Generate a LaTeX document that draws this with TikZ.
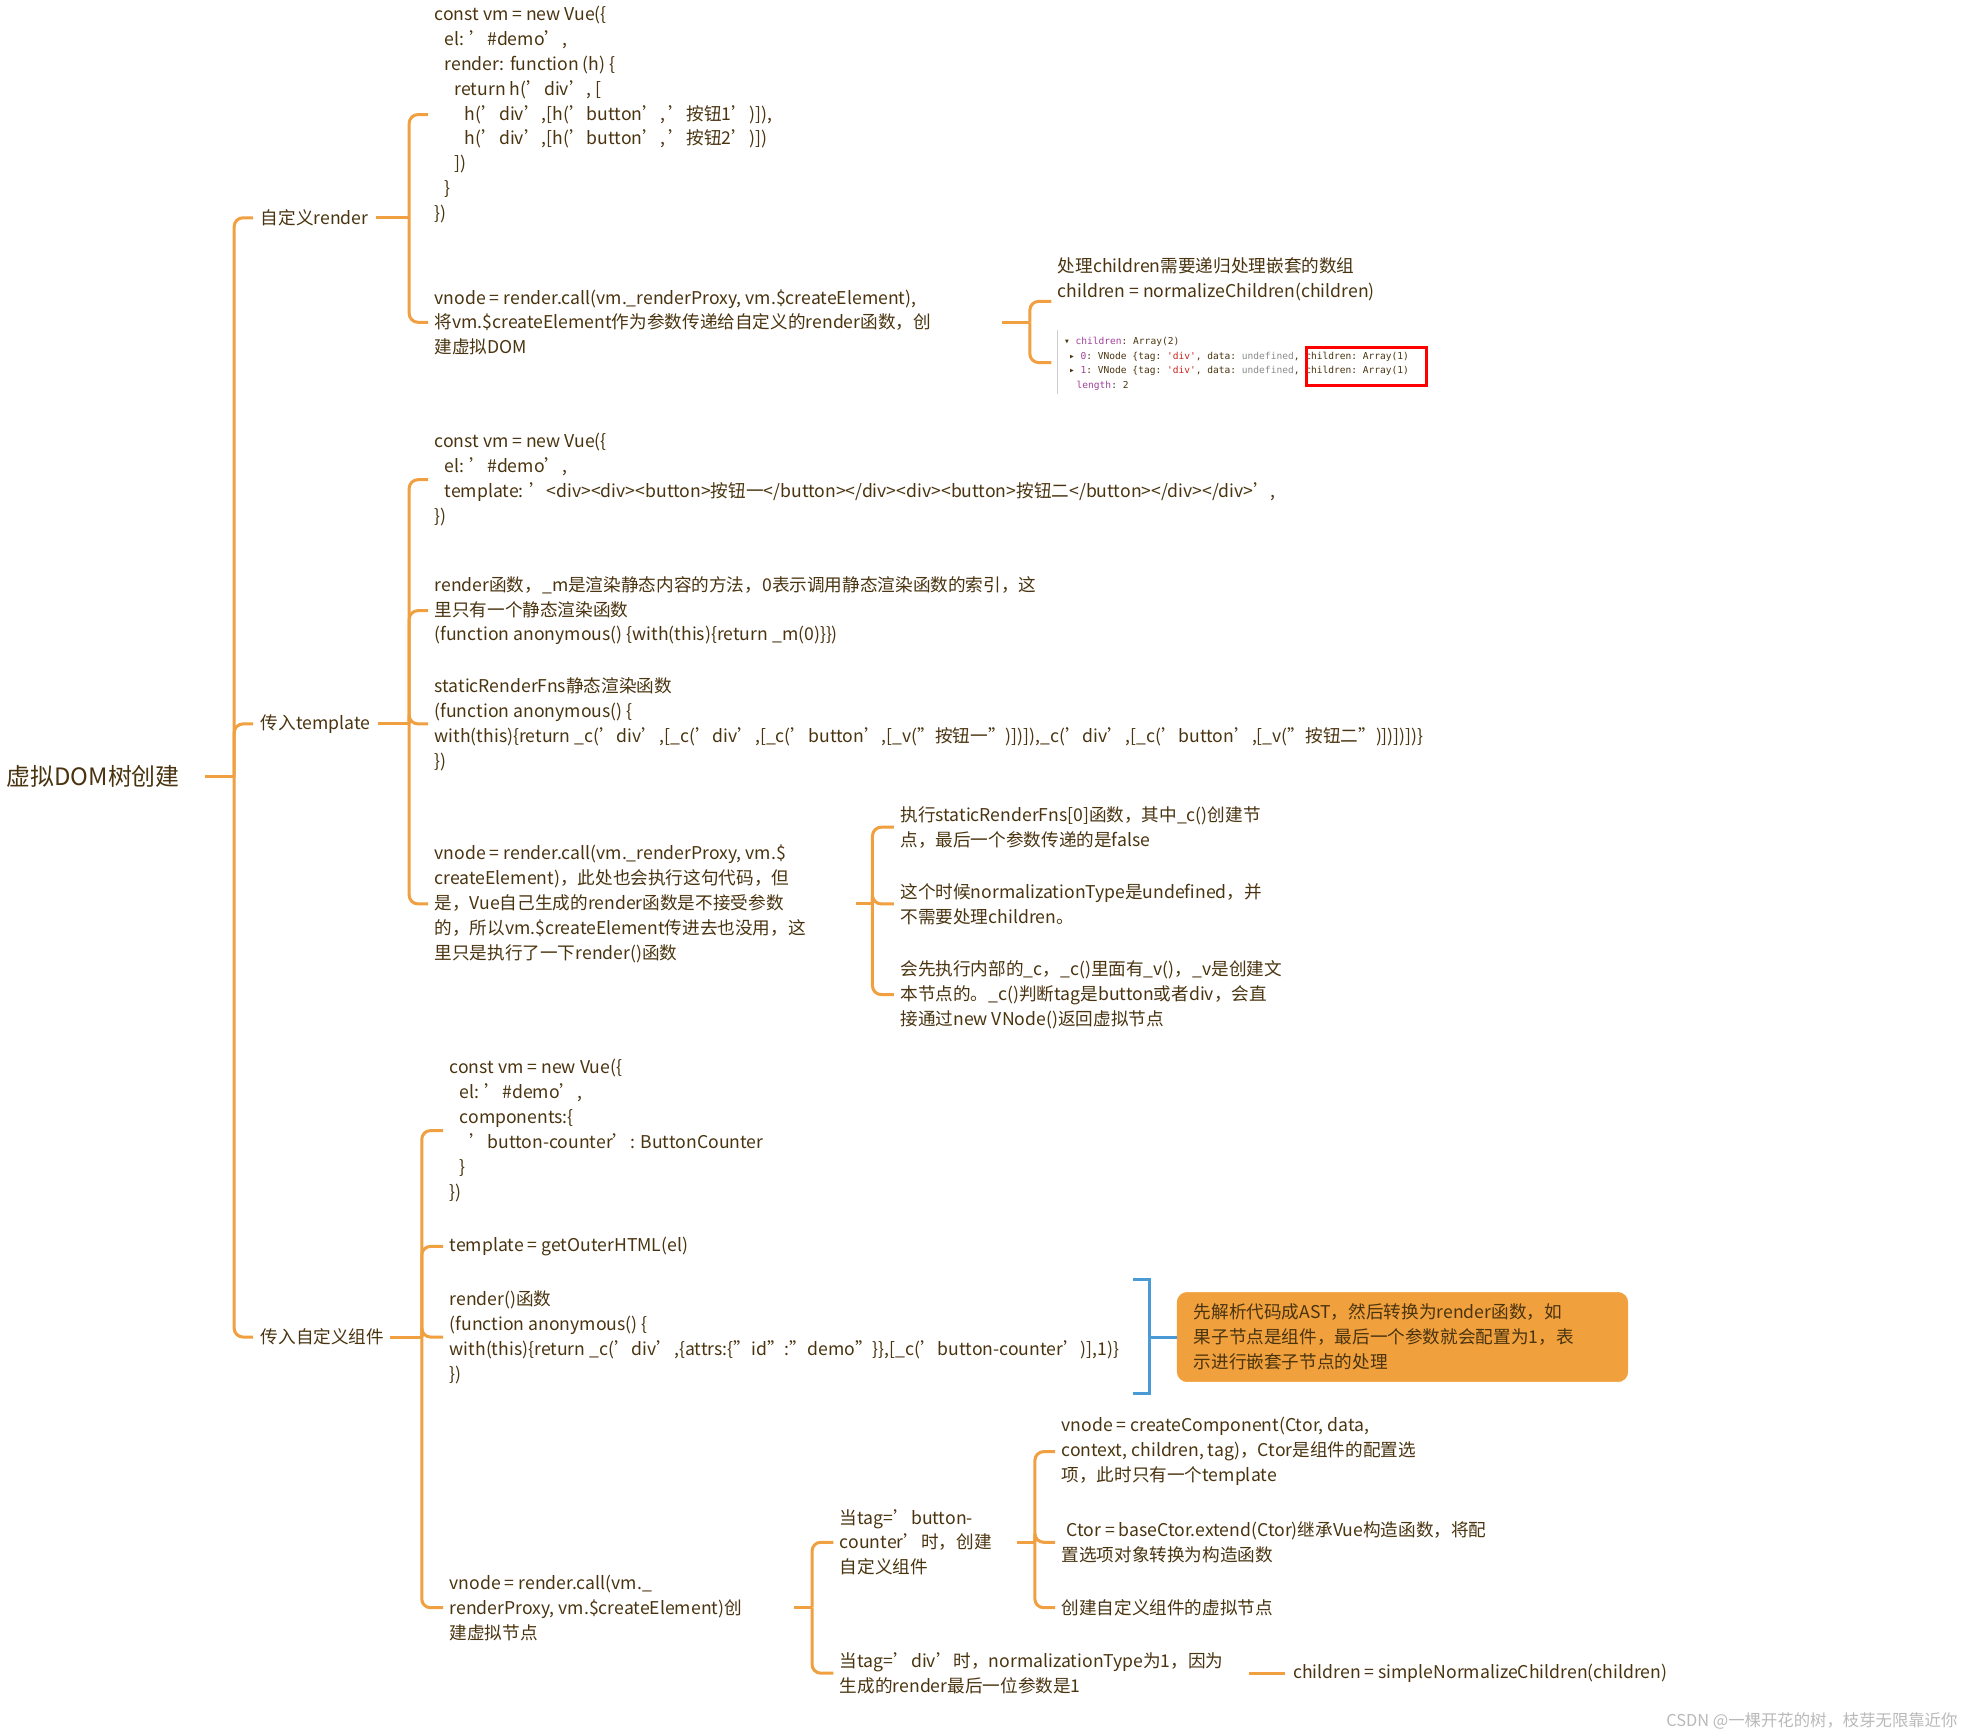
\documentclass[tikz,border=0pt]{standalone}
\usepackage{fontspec}
\setmainfont{Noto Sans CJK SC}
\setmonofont{DejaVu Sans Mono}
\definecolor{tx}{HTML}{4A3410}
\definecolor{br}{HTML}{F0A040}
\definecolor{bx}{HTML}{F0A03C}
\definecolor{bl}{HTML}{4A9AD6}
\definecolor{pu}{HTML}{A0409A}
\definecolor{rd}{HTML}{C8281E}
\definecolor{gy}{HTML}{8A8A8A}
\newcommand{\ind}[1]{\hspace*{#1pt}}
\tikzset{
  txt/.style={anchor=west,align=left,inner sep=0pt,text=tx,font=\fontsize{14}{19.8}\selectfont},
  brl/.style={draw=br,line width=2.4pt,rounded corners=7pt},
}
\begin{document}
\begin{tikzpicture}[x=1pt,y=-1pt]
\useasboundingbox (0,0) rectangle (1560,1376);
% root
\node[txt,font=\fontsize{19}{24}\selectfont] (R) at (5,617) {虚拟DOM树创建};
\coordinate (bR) at (186,617);
\draw[brl] ([xshift=20pt]R.east) -- (bR);
% level 1
\node[txt] (A) at (207,173) {自定义render};
\node[txt] (B) at (207,575) {传入template};
\node[txt] (C) at (207,1062) {传入自定义组件};
\foreach \n in {A,B,C} \draw[brl] (bR) |- ([xshift=-6pt]\n.west);
% A branch
\coordinate (bA) at (325,173);
\draw[brl] ([xshift=6pt]A.east) -- (bA);
\node[txt] (A1) at (345,91) {const vm = new Vue(\{\\\ind{8}el: '\#demo',\\\ind{8}render: function (h) \{\\\ind{16}return h('div', [\\\ind{24}h('div',[h('button', '按钮1')]),\\\ind{24}h('div',[h('button', '按钮2')])\\\ind{16}])\\\ind{8}\}\\\})};
\node[txt] (A2) at (345,256) {vnode = render.call(vm.\_renderProxy, vm.\$createElement),\\将vm.\$createElement作为参数传递给自定义的render函数，创\\建虚拟DOM};
\foreach \n in {A1,A2} \draw[brl] (bA) |- ([xshift=-5pt]\n.west);
\coordinate (bA2) at (818,256);
\draw[brl] (796,256) -- (bA2);
\node[txt] (A2a) at (840,222) {处理children需要递归处理嵌套的数组\\children = normalizeChildren(children)};
\node[anchor=west,align=left,inner sep=0pt,font=\ttfamily\fontsize{7.6}{11.5}\selectfont,text=tx] (A2b) at (845,289)
 {▾ {\color{pu}children}: Array(2)\\
 \ind{4}▸ {\color{pu}0}: VNode \{tag: {\color{rd}'div'}, data: {\color{gy}undefined}, children: Array(1)\\
 \ind{4}▸ {\color{pu}1}: VNode \{tag: {\color{rd}'div'}, data: {\color{gy}undefined}, children: Array(1)\\
 \ind{10}{\color{pu}length}: 2};
\draw[gray!40,line width=0.8pt] (840,262) -- (840,313);
\draw[red,line width=2.2pt] (1038,276) rectangle (1133,306);
\draw[brl] (bA2) |- ([xshift=-5pt]A2a.south west) ++(0,-10);
\draw[brl] (bA2) |- (835,288);
% B branch
\coordinate (bB) at (325,575);
\draw[brl] ([xshift=6pt]B.east) -- (bB);
\node[txt] (B1) at (345,381) {const vm = new Vue(\{\\\ind{8}el: '\#demo',\\\ind{8}template: '<div><div><button>按钮一</button></div><div><button>按钮二</button></div></div>',\\\})};
\node[txt] (B2) at (345,485) {render函数，\_m是渲染静态内容的方法，0表示调用静态渲染函数的索引，这\\里只有一个静态渲染函数\\(function anonymous() \{with(this)\{return \_m(0)\}\})};
\node[txt] (B3) at (345,575) {staticRenderFns静态渲染函数\\(function anonymous() \{\\with(this)\{return \_c('div',[\_c('div',[\_c('button',[\_v("按钮一")])]),\_c('div',[\_c('button',[\_v("按钮二")])])])\}\\\})};
\node[txt] (B4) at (345,718) {vnode = render.call(vm.\_renderProxy, vm.\$\\createElement)，此处也会执行这句代码，但\\是，Vue自己生成的render函数是不接受参数\\的，所以vm.\$createElement传进去也没用，这\\里只是执行了一下render()函数};
\foreach \n in {B1,B2,B3,B4} \draw[brl] (bB) |- ([xshift=-5pt]\n.west);
\coordinate (bB4) at (693,718);
\draw[brl] (680,718) -- (bB4);
\node[txt] (B4a) at (715,657) {执行staticRenderFns[0]函数，其中\_c()创建节\\点，最后一个参数传递的是false};
\node[txt] (B4b) at (715,718) {这个时候normalizationType是undefined，并\\不需要处理children。};
\node[txt] (B4c) at (715,790) {会先执行内部的\_c，\_c()里面有\_v()，\_v是创建文\\本节点的。\_c()判断tag是button或者div，会直\\接通过new VNode()返回虚拟节点};
\foreach \n in {B4a,B4b,B4c} \draw[brl] (bB4) |- ([xshift=-5pt]\n.west);
% C branch
\coordinate (bC) at (335,1062);
\draw[brl] ([xshift=4pt]C.east) -- (bC);
\node[txt] (C1) at (357,898) {const vm = new Vue(\{\\\ind{8}el: '\#demo',\\\ind{8}components:\{\\\ind{16}'button-counter': ButtonCounter\\\ind{8}\}\\\})};
\node[txt] (C2) at (357,990) {template = getOuterHTML(el)};
\node[txt] (C3) at (357,1062) {render()函数\\(function anonymous() \{\\with(this)\{return \_c('div',\{attrs:\{"id":"demo"\}\},[\_c('button-counter')],1)\}\\\})};
\node[txt] (C4) at (357,1277) {vnode = render.call(vm.\_\\renderProxy, vm.\$createElement)创\\建虚拟节点};
\foreach \n in {C1,C2,C3,C4} \draw[brl] (bC) |- ([xshift=-5pt]\n.west);
% blue summary
\coordinate (bl1) at (913,1062);
\draw[bl,line width=2.4pt] (900,1016) -- (913,1016) -- (913,1107) -- (900,1107);
\node[draw=bx,fill=bx,rounded corners=8pt,minimum width=358pt,minimum height=71pt,inner sep=0pt] (S) at (1114,1062) {};
\node[txt] (St) at (948,1062) {先解析代码成AST，然后转换为render函数，如\\果子节点是组件，最后一个参数就会配置为1，表\\示进行嵌套子节点的处理};
\draw[bl,line width=2.4pt] (bl1) -- (S.west);
% C4 children
\coordinate (bC4) at (645,1277);
\draw[brl] (631,1277) -- (bC4);
\node[txt] (C4a) at (667,1225) {当tag='button-\\counter'时，创建\\自定义组件};
\node[txt] (C4b) at (667,1329) {当tag='div'时，normalizationType为1，因为\\生成的render最后一位参数是1};
\foreach \n in {C4a,C4b} \draw[brl] (bC4) |- ([xshift=-5pt]\n.west);
\coordinate (bC4a) at (822,1225);
\draw[brl] (808,1225) -- (bC4a);
\node[txt] (C4a1) at (843,1153) {vnode = createComponent(Ctor, data,\\context, children, tag)，Ctor是组件的配置选\\项，此时只有一个template};
\node[txt] (C4a2) at (843,1225) {\ind{4}Ctor = baseCtor.extend(Ctor)继承Vue构造函数，将配\\置选项对象转换为构造函数};
\node[txt] (C4a3) at (843,1277) {创建自定义组件的虚拟节点};
\foreach \n in {C4a1,C4a2,C4a3} \draw[brl] (bC4a) |- ([xshift=-5pt]\n.west);
\node[txt] (C4b1) at (1027,1329) {children = simpleNormalizeChildren(children)};
\draw[brl] (992,1329) -- ([xshift=-6pt]C4b1.west);
% watermark
\node[anchor=east,inner sep=0pt,text=gray!55,font=\fontsize{13}{16}\selectfont] (W) at (1555,1367) {CSDN @一棵开花的树，枝芽无限靠近你};
\end{tikzpicture}
\end{document}
